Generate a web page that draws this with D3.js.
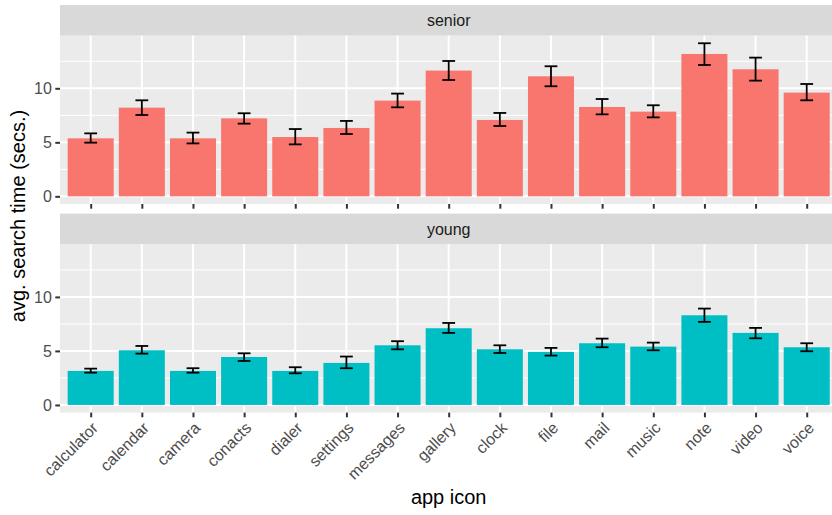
<!DOCTYPE html>
<html>
<head>
<meta charset="utf-8">
<script src="https://cdn.jsdelivr.net/npm/d3@7"></script>
<style>
  html, body { margin: 0; padding: 0; background: #fff; }
  svg { display: block; font-family: "Liberation Sans", Arial, Helvetica, sans-serif; }
</style>
</head>
<body>
<svg id="chart" width="832" height="515"></svg>
<script>
// App icons shown along the x axis
const apps = ["calculator", "calendar", "camera", "conacts", "dialer", "settings", "messages",
  "gallery", "clock", "file", "mail", "music", "note", "video", "voice"];

// Age groups (one facet each)
const groups = ["senior", "young"];

// Mean search time (secs.) per app, with error bar bounds
const seniorMean = [5.37, 8.21, 5.37, 7.22, 5.49, 6.33, 8.86, 11.64, 7.07, 11.11, 8.27, 7.84, 13.18, 11.76, 9.60];
const seniorLow  = [4.97, 7.53, 4.90, 6.73, 4.81, 5.77, 8.24, 10.77, 6.51, 10.19, 7.59, 7.31, 12.16, 10.71, 8.89];
const seniorHigh = [5.83, 8.89, 5.90, 7.69, 6.23, 6.98, 9.51, 12.53, 7.72, 12.04, 9.01, 8.43, 14.17, 12.84, 10.40];

const youngMean = [3.15, 5.06, 3.15, 4.44, 3.15, 3.89, 5.52, 7.10, 5.15, 4.91, 5.71, 5.40, 8.30, 6.67, 5.34];
const youngLow  = [2.99, 4.75, 2.99, 4.07, 2.93, 3.40, 5.15, 6.67, 4.81, 4.57, 5.34, 5.06, 7.69, 6.17, 4.97];
const youngHigh = [3.36, 5.46, 3.40, 4.78, 3.49, 4.48, 5.90, 7.59, 5.52, 5.28, 6.14, 5.77, 8.92, 7.13, 5.71];

const yTicks = [0, 5, 10];
const yMinor = [2.5, 7.5, 12.5];

const fills = { senior: "#F8766D", young: "#00BFC4" };

const facets = [
  { name: groups[0], mean: seniorMean, low: seniorLow, high: seniorHigh },
  { name: groups[1], mean: youngMean,  low: youngLow,  high: youngHigh }
];

const svg = d3.select("#chart");

// Layout
const panelLeft = 60, panelRight = 837.4;
const stripH = 30.6, panelH = 168.4;
const facetTops = [5, 213.6];

// Shared scales
const x = d3.scalePoint().domain(apps).range([panelLeft, panelRight]).padding(0.6);
const step = x.step();
const barW = step * 0.9;
const errW = step * 0.25;

const yMax = d3.max(seniorHigh.concat(youngHigh));
const pad = yMax * 0.05;

const tickColor = "#333333";
const labelColor = "#4D4D4D";
const smallFont = 16;
const titleFont = 20;

facets.forEach((f, fi) => {
  const stripTop = facetTops[fi];
  const pTop = stripTop + stripH;
  const pBottom = pTop + panelH;
  const y = d3.scaleLinear().domain([-pad, yMax + pad]).range([pBottom, pTop]);

  const g = svg.append("g");

  // panel background
  g.append("rect").attr("x", panelLeft).attr("y", pTop)
    .attr("width", panelRight - panelLeft).attr("height", panelH).attr("fill", "#EBEBEB");

  // strip
  g.append("rect").attr("x", panelLeft).attr("y", stripTop)
    .attr("width", panelRight - panelLeft).attr("height", stripH).attr("fill", "#D9D9D9");
  g.append("text").attr("x", (panelLeft + panelRight) / 2).attr("y", stripTop + stripH / 2)
    .attr("dy", "0.35em").attr("text-anchor", "middle")
    .attr("font-size", smallFont).attr("fill", "#1A1A1A").text(f.name);

  // grid lines
  g.selectAll(".minor").data(yMinor).join("line")
    .attr("x1", panelLeft).attr("x2", panelRight)
    .attr("y1", d => y(d)).attr("y2", d => y(d))
    .attr("stroke", "#fff").attr("stroke-width", 1);
  g.selectAll(".major").data(yTicks).join("line")
    .attr("x1", panelLeft).attr("x2", panelRight)
    .attr("y1", d => y(d)).attr("y2", d => y(d))
    .attr("stroke", "#fff").attr("stroke-width", 2);
  g.selectAll(".vgrid").data(apps).join("line")
    .attr("x1", d => x(d)).attr("x2", d => x(d))
    .attr("y1", pTop).attr("y2", pBottom)
    .attr("stroke", "#fff").attr("stroke-width", 2);

  // bars
  g.selectAll(".bar").data(apps).join("rect")
    .attr("x", d => x(d) - barW / 2)
    .attr("width", barW)
    .attr("y", (d, i) => y(f.mean[i]))
    .attr("height", (d, i) => y(0) - y(f.mean[i]))
    .attr("fill", fills[f.name]);

  // error bars
  const eb = g.selectAll(".err").data(apps).join("g");
  eb.append("line")
    .attr("x1", d => x(d)).attr("x2", d => x(d))
    .attr("y1", (d, i) => y(f.low[i])).attr("y2", (d, i) => y(f.high[i]));
  eb.append("line")
    .attr("x1", d => x(d) - errW / 2).attr("x2", d => x(d) + errW / 2)
    .attr("y1", (d, i) => y(f.low[i])).attr("y2", (d, i) => y(f.low[i]));
  eb.append("line")
    .attr("x1", d => x(d) - errW / 2).attr("x2", d => x(d) + errW / 2)
    .attr("y1", (d, i) => y(f.high[i])).attr("y2", (d, i) => y(f.high[i]));
  eb.selectAll("line").attr("stroke", "#000").attr("stroke-width", 1.8);

  // y axis
  const yAxis = d3.axisLeft(y).tickValues(yTicks).tickSize(4.7).tickPadding(3.5);
  const ya = g.append("g").attr("transform", `translate(${panelLeft},0)`).call(yAxis);
  ya.select(".domain").remove();
  ya.selectAll(".tick line").attr("stroke", tickColor).attr("stroke-width", 2);
  ya.selectAll(".tick text").attr("fill", labelColor).attr("font-size", smallFont)
    .attr("font-family", null);

  // x axis ticks on both panels, labels on the bottom one
  const xAxis = d3.axisBottom(x).tickSize(4.7).tickFormat(fi === facets.length - 1 ? d => d : "");
  const xa = g.append("g").attr("transform", `translate(0,${pBottom})`).call(xAxis);
  xa.select(".domain").remove();
  xa.selectAll(".tick line").attr("stroke", tickColor).attr("stroke-width", 2);
  xa.selectAll(".tick text")
    .attr("fill", labelColor).attr("font-size", smallFont).attr("font-family", null)
    .attr("text-anchor", "end")
    .attr("y", 0).attr("dy", 0)
    .attr("transform", "translate(0,8.5) rotate(-45) translate(0,11)");
});

// axis titles
svg.append("text")
  .attr("transform", "translate(25,216) rotate(-90)")
  .attr("text-anchor", "middle").attr("font-size", titleFont).attr("fill", "#000")
  .text("avg. search time (secs.)");

svg.append("text")
  .attr("x", (panelLeft + panelRight) / 2).attr("y", 504)
  .attr("text-anchor", "middle").attr("font-size", titleFont).attr("fill", "#000")
  .text("app icon");
</script>
</body>
</html>
